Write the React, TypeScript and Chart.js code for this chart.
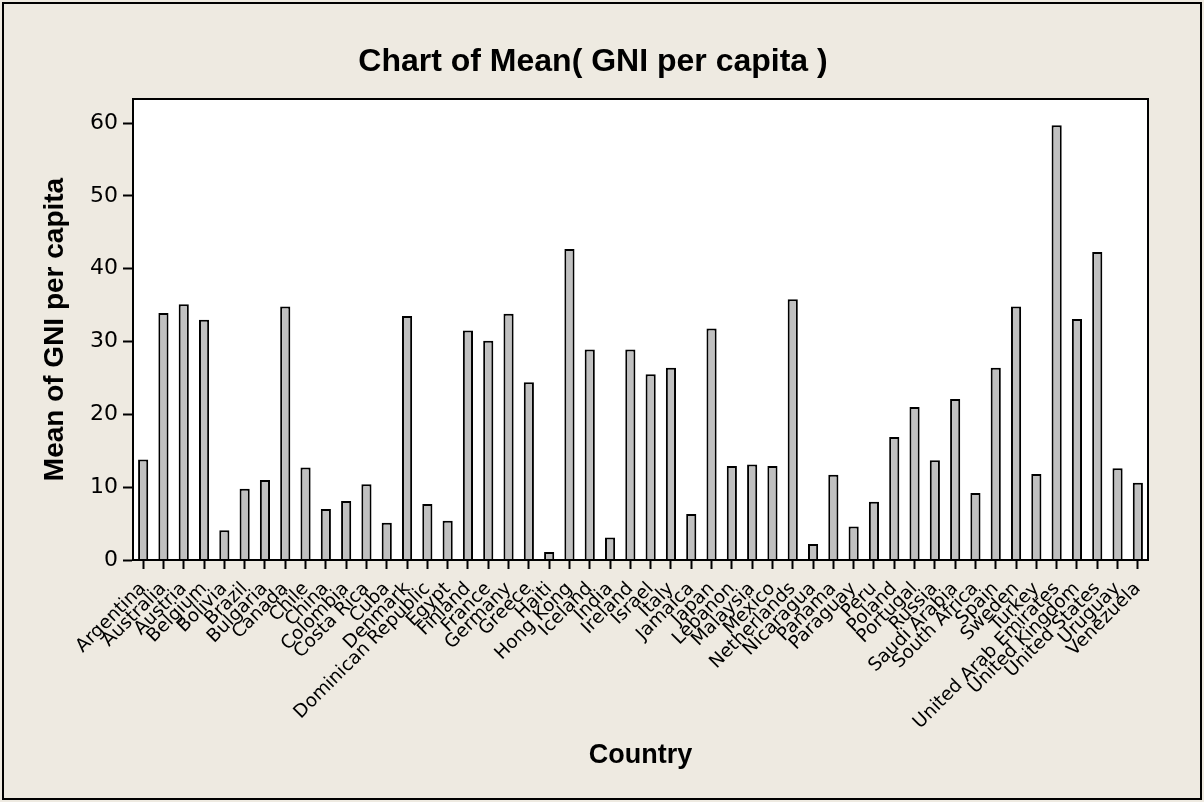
import React, { useEffect, useRef } from "react";
import { Chart, registerables } from "chart.js";

Chart.register(...registerables);

const categories = [
  "Argentina", "Australia", "Austria", "Belgium", "Bolivia", "Brazil", "Bulgaria", "Canada",
  "Chile", "China", "Colombia", "Costa Rica", "Cuba", "Denmark", "Dominican Republic", "Egypt",
  "Finland", "France", "Germany", "Greece", "Haiti", "Hong Kong", "Iceland", "India",
  "Ireland", "Israel", "Italy", "Jamaica", "Japan", "Lebanon", "Malaysia", "Mexico",
  "Netherlands", "Nicaragua", "Panama", "Paraguay", "Peru", "Poland", "Portugal", "Russia",
  "Saudi Arabia", "South Africa", "Spain", "Sweden", "Turkey", "United Arab Emirates",
  "United Kingdom", "United States", "Uruguay", "Venezuela",
];

const gniMeans = [
  13.8, 33.9, 35.1, 33.0, 4.1, 9.8, 11.0, 34.8,
  12.7, 7.0, 8.1, 10.4, 5.1, 33.5, 7.7, 5.4,
  31.5, 30.1, 33.8, 24.4, 1.1, 42.7, 28.9, 3.1,
  28.9, 25.5, 26.4, 6.3, 31.8, 12.9, 13.1, 12.9,
  35.8, 2.2, 11.7, 4.6, 8.0, 16.9, 21.0, 13.7,
  22.1, 9.2, 26.4, 34.8, 11.8, 59.7,
  33.1, 42.3, 12.6, 10.6,
];

const yTickValues = [0, 10, 20, 30, 40, 50, 60];
const yMax = 63.3;

const BG = "#EEEAE1";

const framePlugin = {
  id: "frame",
  beforeDraw(chart: any) {
    const { ctx, chartArea, width, height } = chart;
    ctx.save();
    ctx.fillStyle = BG;
    ctx.fillRect(0, 0, width, height);
    ctx.fillStyle = "#FFFFFF";
    ctx.fillRect(chartArea.left, chartArea.top, chartArea.right - chartArea.left, chartArea.bottom - chartArea.top);
    ctx.strokeStyle = "#000";
    ctx.lineWidth = 2;
    ctx.strokeRect(3, 3, width - 6, height - 6);
    ctx.restore();
  },
  afterDatasetsDraw(chart: any) {
    const { ctx, chartArea } = chart;
    ctx.save();
    ctx.strokeStyle = "#000";
    ctx.lineWidth = 2;
    ctx.strokeRect(chartArea.left, chartArea.top, chartArea.right - chartArea.left, chartArea.bottom - chartArea.top);
    ctx.restore();
  },
};

export default function App() {
  const canvasRef = useRef<HTMLCanvasElement | null>(null);

  useEffect(() => {
    const canvas = canvasRef.current;
    if (!canvas) return;
    const chart = new Chart(canvas, {
      type: "bar",
      data: {
        labels: categories,
        datasets: [
          {
            label: "Mean of GNI per capita",
            data: gniMeans,
            backgroundColor: "#C0C0C0",
            borderColor: "#000000",
            borderWidth: 2,
            borderSkipped: "bottom",
            barPercentage: 0.5,
            categoryPercentage: 1,
          },
        ],
      },
      options: {
        responsive: false,
        animation: false,
        events: [],
        layout: { padding: { left: 38, right: 56, top: 0, bottom: 0 } },
        plugins: {
          legend: { display: false },
          tooltip: { enabled: false },
          title: {
            display: true,
            text: "Chart of Mean( GNI per capita )",
            color: "#000",
            font: { family: "'Liberation Sans', Arial, sans-serif", size: 32, weight: "bold", lineHeight: 1.2 },
            padding: { top: 43, bottom: 17.6 },
          },
        },
        scales: {
          x: {
            type: "category",
            offset: true,
            grid: {
              display: true,
              offset: false,
              drawOnChartArea: false,
              drawTicks: true,
              tickLength: 9,
              tickColor: "#000",
              tickWidth: 2,
            },
            border: { display: true, color: "#000", width: 2 },
            ticks: {
              autoSkip: false,
              minRotation: 45,
              maxRotation: 45,
              color: "#000",
              padding: 9,
              font: { family: "'DejaVu Sans', sans-serif", size: 18.5 },
            },
            title: {
              display: true,
              text: "Country",
              color: "#000",
              font: { family: "'Liberation Sans', Arial, sans-serif", size: 27, weight: "bold", lineHeight: 1.2 },
              padding: { top: 30, bottom: 30 },
            },
            afterFit(scale: any) {
              scale.height = 242;
            },
          },
          y: {
            type: "linear",
            min: 0,
            max: yMax,
            grid: {
              display: true,
              drawOnChartArea: false,
              drawTicks: true,
              tickLength: 10,
              tickColor: "#000",
              tickWidth: 2,
            },
            border: { display: true, color: "#000", width: 2 },
            afterBuildTicks(scale: any) {
              scale.ticks = yTickValues.map((v) => ({ value: v }));
            },
            ticks: {
              color: "#000",
              padding: 5,
              font: { family: "'DejaVu Sans', sans-serif", size: 22 },
            },
            title: {
              display: true,
              text: "Mean of GNI per capita",
              color: "#000",
              font: { family: "'Liberation Sans', Arial, sans-serif", size: 28, weight: "bold", lineHeight: 1.2 },
              padding: { top: 0, bottom: 0 },
            },
            afterFit(scale: any) {
              scale.width = 95;
            },
          },
        },
      },
      plugins: [framePlugin],
    });
    return () => chart.destroy();
  }, []);

  return (
    <div style={{ position: "fixed", left: 0, top: 0, width: 1204, height: 802, background: BG }}>
      <canvas ref={canvasRef} width={1204} height={802} style={{ display: "block", width: 1204, height: 802 }} />
    </div>
  );
}
